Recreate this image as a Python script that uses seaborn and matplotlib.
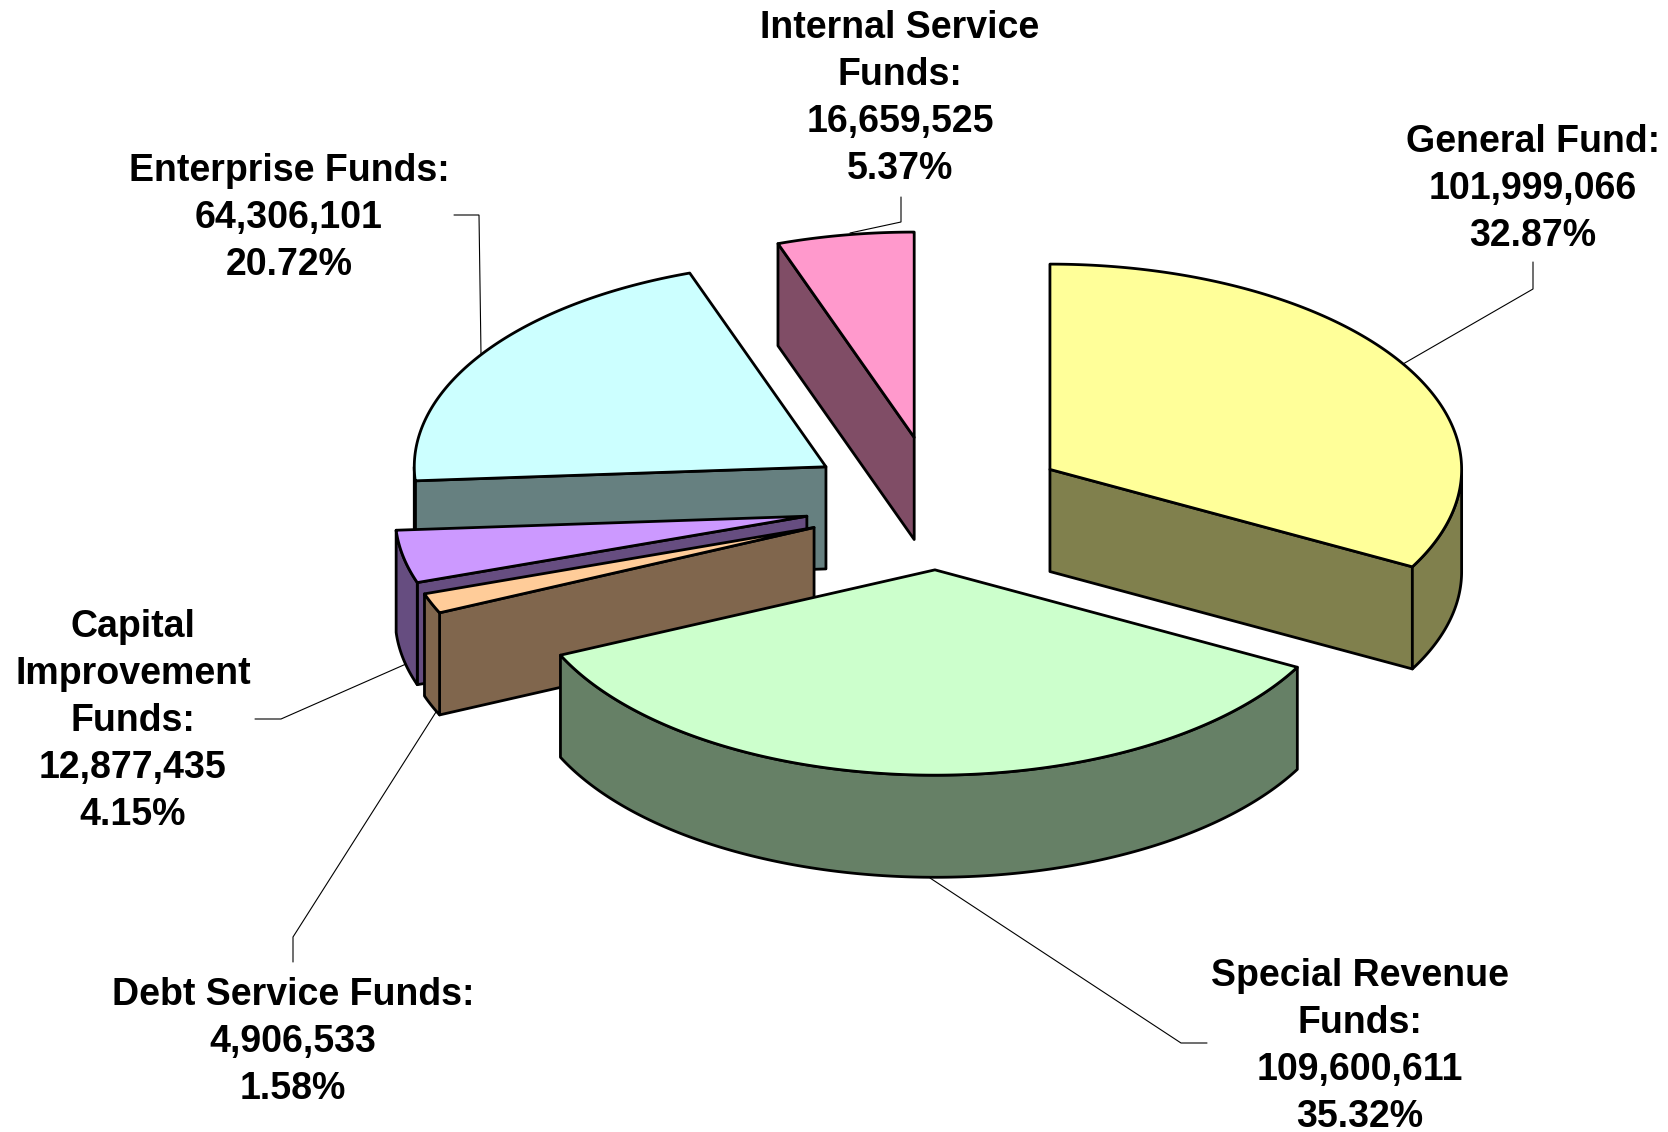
import numpy as np
import matplotlib
matplotlib.use("Agg")
import matplotlib.pyplot as plt
from matplotlib.patches import Polygon
import seaborn as sns

# Fund totals, clockwise from twelve o'clock
funds = ["General Fund", "Special Revenue\nFunds", "Debt Service Funds",
         "Capital\nImprovement\nFunds", "Enterprise Funds", "Internal Service\nFunds"]
amounts = [101999066, 109600611, 4906533, 12877435, 64306101, 16659525]
amount_labels = ["101,999,066", "109,600,611", "4,906,533", "12,877,435", "64,306,101", "16,659,525"]
pct_labels = ["32.87%", "35.32%", "1.58%", "4.15%", "20.72%", "5.37%"]
top_colors = ["#FFFF99", "#CCFFCC", "#FFCC99", "#CC99FF", "#CCFFFF", "#FF99CC"]
explode = [0.3205, 0.325, 0.3205, 0.3216, 0.322, 0.325]

# Label anchors (centre x, top y) and leader polylines, in pixels
label_pos = [(1533, 124), (1360, 958), (293, 977), (133, 609), (289, 153), (900, 10)]
leaders = [
    [(1533, 262), (1533, 289), (1403, 364)],
    [(930, 878), (1181, 1043), (1207, 1043)],
    [(436, 712), (293, 937), (293, 962)],
    [(406, 664), (281, 719), (255, 719)],
    [(481, 354), (479, 215), (454, 215)],
    [(850, 233), (901, 222), (901, 197)],
]

SCALE = 1668 / 1568
RX, RY, DEPTH = 387 * SCALE, 193 * SCALE, 96 * SCALE
CX, CY = 880.5 * SCALE, 473 * SCALE
SPECIAL_SHIFT = 2.5 * SCALE
DRAW_ORDER = [5, 4, 0, 3, 2, 1]

sns.set_theme(style="white")
plt.rcParams["font.family"] = ["Liberation Sans", "DejaVu Sans"]
palette = sns.color_palette(top_colors)

fig = plt.figure(figsize=(16.68, 11.32), dpi=100)
ax = fig.add_axes([0, 0, 1, 1])
ax.set_xlim(0, 1668)
ax.set_ylim(1132, 0)
ax.axis("off")

fractions = np.array(amounts, dtype=float) / np.sum(amounts)
edges = np.concatenate([[0.0], np.cumsum(fractions)]) * 2 * np.pi


def rim(cx, cy, theta):
    return np.column_stack([cx + RX * np.sin(theta), cy - RY * np.cos(theta)])


def darker(color):
    return tuple(c * 0.5 for c in color)


for i in DRAW_ORDER:
    t1, t2 = edges[i], edges[i + 1]
    mid = (t1 + t2) / 2
    cx = CX + explode[i] * RX * np.sin(mid) + (SPECIAL_SHIFT if i == 1 else 0)
    cy = CY - explode[i] * RY * np.cos(mid)
    apex = np.array([cx, cy])
    wall = darker(palette[i])
    style = dict(edgecolor="black", linewidth=2, joinstyle="round")

    # Cut faces that turn towards the viewer
    for t, visible in ((t2, 0 < t2 < np.pi), (t1, np.pi < t1 < 2 * np.pi)):
        if visible:
            p = rim(cx, cy, np.array([t]))[0]
            quad = [apex, p, p + [0, DEPTH], apex + [0, DEPTH]]
            ax.add_patch(Polygon(quad, closed=True, facecolor=wall, **style))

    # Outer wall on the near half of the ellipse
    lo, hi = max(t1, np.pi / 2), min(t2, 1.5 * np.pi)
    if lo < hi:
        arc = rim(cx, cy, np.linspace(lo, hi, 200))
        ax.add_patch(Polygon(np.vstack([arc, arc[::-1] + [0, DEPTH]]), closed=True,
                             facecolor=wall, **style))

    # Top face
    arc = rim(cx, cy, np.linspace(t1, t2, 300))
    ax.add_patch(Polygon(np.vstack([apex, arc]), closed=True, facecolor=palette[i], **style))

for path in leaders:
    xs, ys = zip(*path)
    ax.plot(xs, ys, color="black", lw=0.8, solid_joinstyle="miter")

for name, amt, pct, (x, y) in zip(funds, amount_labels, pct_labels, label_pos):
    ax.text(x, y, f"{name}:\n{amt}\n{pct}", ha="center", va="top", fontsize=27,
            fontweight="bold", color="black", linespacing=1.39)

fig.savefig("out.png", dpi=100, facecolor="white")
